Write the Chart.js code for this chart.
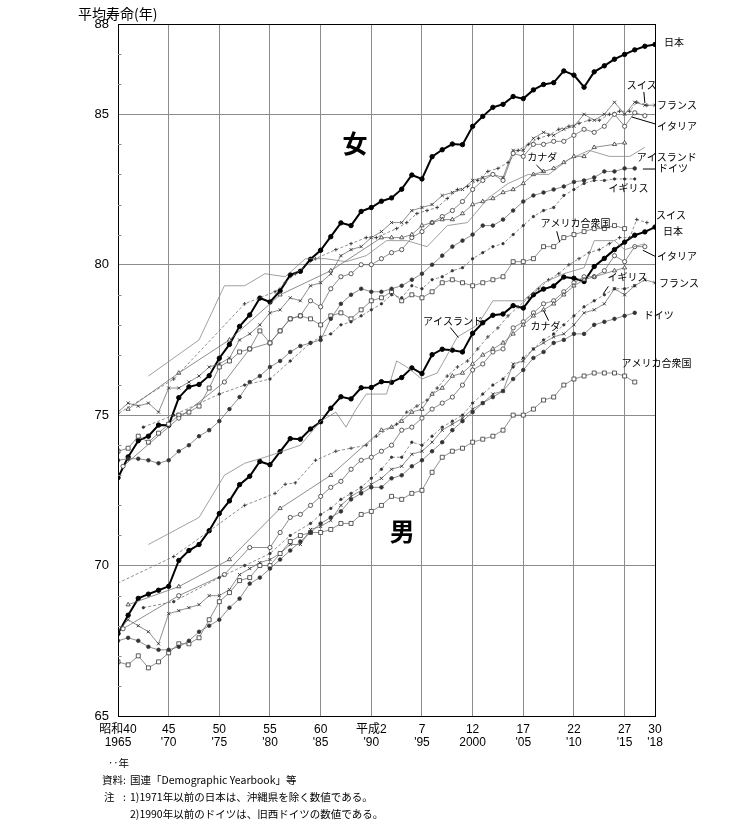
<!DOCTYPE html>
<html>
<head>
<meta charset="utf-8">
<script src="https://cdn.jsdelivr.net/npm/chart.js@4.4.1/dist/chart.umd.min.js"></script>
<style>
    html, body { margin: 0; background: #fff; }
    canvas { display: block; }
</style>
</head>
<body>
<canvas id="lifeChart" width="745" height="840"></canvas>
<script>
// years on the axis
const tickYears = [1965, 1970, 1975, 1980, 1985, 1990, 1995, 2000, 2005, 2010, 2015, 2018];
const eraLabels = ['昭和40', '45', '50', '55', '60', '平成2', '7', '12', '17', '22', '27', '30'];
const westLabels = ['1965', "'70", "'75", "'80", "'85", "'90", "'95", '2000', "'05", "'10", "'15", "'18"];
const yMajorTicks = [65, 70, 75, 80, 85, 88];

const annualYears = [1965,1966,1967,1968,1969,1970,1971,1972,1973,1974,1975,1976,1977,1978,1979,1980,1981,1982,1983,1984,1985,1986,1987,1988,1989,1990,1991,1992,1993,1994,1995,1996,1997,1998,1999,2000,2001,2002,2003,2004,2005,2006,2007,2008,2009,2010,2011,2012,2013,2014,2015,2016,2017,2018];

// 日本
const japanF = [72.92,73.61,74.15,74.30,74.67,74.66,75.58,75.94,76.02,76.31,76.89,77.35,77.95,78.33,78.89,78.76,79.13,79.66,79.78,80.18,80.48,80.93,81.39,81.30,81.77,81.90,82.11,82.22,82.51,82.98,82.85,83.59,83.82,84.01,83.99,84.60,84.93,85.23,85.33,85.59,85.52,85.81,85.99,86.05,86.44,86.30,85.90,86.41,86.61,86.83,86.99,87.14,87.26,87.32];
const japanM = [67.74,68.35,68.91,69.05,69.18,69.31,70.17,70.50,70.70,71.16,71.73,72.15,72.69,72.97,73.46,73.35,73.79,74.22,74.20,74.54,74.78,75.23,75.61,75.54,75.91,75.92,76.11,76.09,76.25,76.57,76.38,77.01,77.19,77.16,77.10,77.72,78.07,78.32,78.36,78.64,78.56,79.00,79.19,79.29,79.59,79.55,79.44,79.94,80.21,80.50,80.75,80.98,81.09,81.25];

// フランス
const franceF = [75.1,75.4,75.3,75.4,75.1,75.9,75.9,76.1,76.3,76.6,76.7,76.9,77.5,77.7,78.0,78.4,78.5,78.9,78.8,79.3,79.4,79.7,80.3,80.5,80.6,80.9,81.1,81.4,81.4,81.8,81.9,82.0,82.3,82.4,82.5,82.8,82.9,83.0,82.9,83.8,83.8,84.2,84.4,84.3,84.5,84.6,85.0,84.8,85.0,85.4,85.0,85.4,85.3,85.3];
const franceM = [67.8,68.2,68.0,67.8,67.4,68.4,68.5,68.6,68.7,69.0,69.0,69.2,69.7,69.9,70.1,70.2,70.4,70.7,70.7,71.2,71.3,71.5,72.0,72.3,72.5,72.7,72.9,73.2,73.3,73.7,73.8,74.1,74.5,74.7,74.9,75.2,75.4,75.7,75.8,76.7,76.8,77.2,77.4,77.6,77.7,78.0,78.4,78.5,78.7,79.2,79.0,79.3,79.5,79.4];

// アメリカ合衆国 (1965-2015 / 1965-2016)
const usaF = [73.8,73.9,74.3,74.1,74.4,74.7,75.0,75.1,75.3,75.9,76.6,76.8,77.1,77.2,77.8,77.4,77.8,78.2,78.3,78.2,78.0,78.3,78.4,78.2,78.5,78.8,78.9,79.1,78.8,79.0,78.9,79.1,79.4,79.5,79.4,79.3,79.4,79.5,79.6,80.1,80.1,80.2,80.6,80.6,80.9,81.0,81.1,81.2,81.2,81.3,81.2];
const usaM = [66.8,66.7,67.0,66.6,66.8,67.1,67.4,67.4,67.6,68.2,68.8,69.1,69.5,69.6,70.0,70.0,70.4,70.8,71.0,71.1,71.1,71.2,71.4,71.4,71.7,71.8,72.0,72.3,72.2,72.4,72.5,73.1,73.6,73.8,73.9,74.1,74.2,74.3,74.5,75.0,75.0,75.2,75.5,75.6,76.0,76.2,76.3,76.4,76.4,76.4,76.3,76.1];

// ドイツ (1965-2016)
const germanyF = [73.5,73.55,73.55,73.5,73.4,73.5,73.8,74.0,74.3,74.5,74.8,75.2,75.6,76.1,76.3,76.6,76.8,77.1,77.3,77.4,77.5,78.2,78.7,79.0,79.2,79.1,79.1,79.2,79.3,79.5,79.7,80.0,80.3,80.6,80.8,81.0,81.3,81.3,81.5,81.8,82.1,82.3,82.4,82.5,82.6,82.75,82.8,82.9,83.1,83.1,83.2,83.2];
const germanyM = [67.5,67.6,67.5,67.3,67.2,67.2,67.3,67.5,67.8,68.0,68.2,68.6,68.9,69.4,69.6,69.9,70.2,70.5,70.8,71.1,71.4,71.6,71.8,72.2,72.4,72.6,72.6,72.9,73.0,73.3,73.5,73.8,74.1,74.5,74.8,75.1,75.4,75.6,75.8,76.2,76.5,76.9,77.1,77.4,77.5,77.7,77.7,78.0,78.1,78.2,78.3,78.4];

// スイス
const swissYears = [1960.5,1970.5,1977.5,1980.5,1981.5,1982.5,1984.5,1986.5,1988,1989.5,1990.5,1992.5,1993.5,1994.5,1995.5,1996.5,1997.5,1998.5,1999.5,2000.5,2001.5,2002.5,2003.5,2004.5,2005.5,2006.5,2007.5,2008.5,2009.5,2010.5,2011.5,2012.5,2013.5,2014.5,2015.5,2016.2,2017.2];
const swissF = [74.1,76.2,78.7,79.1,79.4,79.7,80.2,80.5,80.7,80.9,80.9,81.2,81.4,81.7,81.8,81.9,82.2,82.5,82.6,82.8,83.1,83.2,83.4,83.8,84.0,84.2,84.3,84.5,84.6,84.7,84.8,84.8,85.0,85.1,85.1,85.4,85.3];
const swissM = [68.7,70.3,72.0,72.4,72.7,72.75,73.5,73.8,73.9,74.0,74.3,74.7,75.1,75.3,75.5,75.9,76.3,76.6,76.8,77.2,77.6,77.9,78.3,78.6,78.9,79.2,79.5,79.7,80.0,80.2,80.4,80.5,80.7,80.9,80.9,81.5,81.4];

// イタリア
const italyYears = [1965.5,1971,1975.5,1978,1980,1981,1982,1983,1984,1985,1986,1987,1988,1989,1990,1991,1992,1993,1994,1995,1996,1997,1998,1999,2000,2001,2002,2003,2004,2005,2006,2007,2008,2009,2010,2011,2012,2013,2014,2015,2016,2017];
const italyF = [73.3,74.9,76.1,77.2,77.4,77.8,78.2,78.3,78.8,78.6,79.2,79.6,79.7,80.0,80.0,80.2,80.4,80.5,80.9,81.1,81.4,81.6,81.8,82.1,82.5,82.8,83.0,82.8,83.7,83.6,84.0,84.0,84.1,84.1,84.3,84.5,84.4,84.6,85.0,84.6,85.05,84.95];
const italyM = [67.9,69.0,69.7,70.6,70.6,71.1,71.6,71.7,72.0,72.3,72.6,72.8,73.2,73.5,73.6,73.8,74.0,74.5,74.6,74.9,75.2,75.4,75.6,76.0,76.5,76.7,77.1,77.2,77.9,78.1,78.4,78.7,78.8,79.1,79.4,79.6,79.6,79.8,80.3,80.1,80.6,80.6];

// アイスランド
const icelandFYears = [1968,1973,1975.5,1977.5,1979.5,1981.5,1983.5,1985.5,1987.5,1989.5,1991.5,1993.5,1995.5,1997.5,1999.5,2001.5,2003.5,2005.5,2007.5,2009.5,2011.5,2013.5,2015.5,2017];
const icelandF = [76.3,77.5,79.3,79.3,79.7,79.6,80.2,80.2,80.1,80.3,80.8,80.8,80.6,81.3,81.4,82.2,82.7,83.0,83.0,83.5,83.8,83.6,83.6,83.9];
const icelandMYears = [1968,1973,1975.5,1977.5,1979.5,1983,1985,1986.5,1987.5,1988.5,1989.5,1991.5,1992.5,1993.5,1995,1996.5,1998.5,2000.5,2002,2005,2007,2009,2011,2012,2014,2015,2017];
const icelandM = [70.7,71.6,73.0,73.4,73.6,74.0,74.8,75.1,74.6,75.2,75.7,75.7,76.8,76.6,76.2,76.4,77.6,78.0,78.8,78.8,79.4,79.7,79.9,80.8,80.8,80.5,80.7];

// イギリス
const ukYears = [1967.5,1970.5,1975,1977.5,1980,1982,1984,1985,1986,1987,1988,1989,1990,1991,1992,1993,1994,1995,1996,1997,1998,1999,2000,2001,2002,2003,2004,2005,2006,2007,2008,2009,2010,2011,2012,2013,2014,2015,2016];
const ukF = [74.6,75.0,75.7,76.0,76.2,76.8,77.4,77.6,77.7,78.0,78.1,78.3,78.5,78.7,79.0,78.9,79.3,79.2,79.5,79.6,79.8,79.9,80.2,80.4,80.6,80.7,81.0,81.3,81.6,81.8,81.9,82.3,82.5,82.7,82.8,82.8,82.85,82.85,82.85];
const ukM = [68.6,68.8,69.6,70.0,70.4,71.0,71.4,71.7,71.9,72.2,72.4,72.6,72.9,73.2,73.6,73.6,74.1,74.0,74.3,74.6,74.8,75.0,75.4,75.7,76.0,76.2,76.6,76.9,77.2,77.5,77.7,78.0,78.3,78.6,78.8,79.0,79.2,79.2,79.3];

// カナダ
const canadaYears = [1966,1971,1976,1981,1986,1991,1992,1993,1994,1995,1996,1997,1998,1999,2000,2001,2002,2003,2004,2005,2006,2007,2008,2009,2010,2011,2012,2014,2015];
const canadaF = [75.2,76.4,77.5,79.0,79.8,80.9,80.9,80.9,81.0,81.3,81.4,81.5,81.5,81.7,82.0,82.1,82.2,82.4,82.5,82.7,83.0,83.1,83.2,83.4,83.6,83.6,83.9,84.0,84.05];
const canadaM = [68.7,69.3,70.2,71.9,73.0,74.5,74.6,74.8,75.1,75.2,75.7,75.9,76.3,76.4,76.7,77.0,77.2,77.4,77.7,78.0,78.3,78.5,78.7,79.0,79.3,79.5,79.6,79.8,79.9];

// labels placed in data units (year, age)
const countryLabels = [
    { text: '日本', x: 2018.9, y: 87.38 },
    { text: 'スイス', x: 2015.2, y: 85.98 },
    { text: 'フランス', x: 2018.2, y: 85.31 },
    { text: 'イタリア', x: 2018.2, y: 84.61 },
    { text: 'アイスランド', x: 2016.2, y: 83.58 },
    { text: 'ドイツ', x: 2018.3, y: 83.21 },
    { text: 'イギリス', x: 2013.4, y: 82.54 },
    { text: 'カナダ', x: 2005.4, y: 83.58 },
    { text: 'アメリカ合衆国', x: 2006.7, y: 81.38 },
    { text: 'スイス', x: 2018.1, y: 81.64 },
    { text: '日本', x: 2018.8, y: 81.11 },
    { text: 'イタリア', x: 2018.2, y: 80.28 },
    { text: 'フランス', x: 2018.4, y: 79.38 },
    { text: 'イギリス', x: 2013.3, y: 79.58 },
    { text: 'ドイツ', x: 2016.9, y: 78.31 },
    { text: 'カナダ', x: 2005.7, y: 77.94 },
    { text: 'アイスランド', x: 1995.1, y: 78.11 },
    { text: 'アメリカ合衆国', x: 2014.7, y: 76.74 }
];
const pointerLines = [
    [2016.9, 85.74, 2017.0, 85.37],
    [2015.7, 84.91, 2018.0, 84.68],
    [2016.8, 83.18, 2018.1, 83.18],
    [2006.3, 83.31, 2007.0, 83.08],
    [2008.3, 81.11, 2008.6, 80.74],
    [2016.8, 80.48, 2018.0, 80.28],
    [2013.4, 79.28, 2012.9, 79.04],
    [2007.0, 78.48, 2007.5, 78.14],
    [1997.8, 77.91, 1998.6, 77.58]
];
const sexLabels = [
    { text: '女', x: 1988.4, y: 84.04 },
    { text: '男', x: 1993.05, y: 71.14 }
];

const CJK = "'Noto Sans CJK JP', sans-serif";
const NUM = "'Liberation Sans Narrow', 'Liberation Sans', 'Noto Sans CJK JP', sans-serif";

function toPoints(xs, ys) {
    return xs.map((x, i) => ({ x: x, y: ys[i] }));
}

const thin = {
    borderColor: '#6a6a6a',
    borderWidth: 0.75,
    pointBorderColor: '#333',
    pointBackgroundColor: '#fff',
    pointBorderWidth: 0.8,
    pointRadius: 2,
    tension: 0
};
const styles = {
    japan: { borderColor: '#000', borderWidth: 2, pointStyle: 'circle', pointRadius: 2.2,
             pointBackgroundColor: '#000', pointBorderColor: '#000', pointBorderWidth: 1, tension: 0 },
    usa: Object.assign({}, thin, { pointStyle: 'rect', pointRadius: 2.8 }),
    italy: Object.assign({}, thin, { pointStyle: 'circle', pointRadius: 2.1 }),
    canada: Object.assign({}, thin, { pointStyle: 'triangle', pointRadius: 2.4 }),
    germany: Object.assign({}, thin, { pointStyle: 'circle', pointRadius: 1.8, pointBackgroundColor: '#333' }),
    france: Object.assign({}, thin, { pointStyle: 'crossRot', pointRadius: 2.2, pointBorderWidth: 0.9 }),
    swiss: Object.assign({}, thin, { borderDash: [3, 2], pointStyle: 'cross', pointRadius: 1.8, pointBorderWidth: 0.9 }),
    uk: Object.assign({}, thin, { borderDash: [3, 2], pointStyle: 'circle', pointRadius: 1.2, pointBackgroundColor: '#333' }),
    iceland: Object.assign({}, thin, { borderColor: '#808080', pointRadius: 0 })
};

const datasets = [
    ['アイスランド女', icelandFYears, icelandF, 'iceland'],
    ['アイスランド男', icelandMYears, icelandM, 'iceland'],
    ['イギリス女', ukYears, ukF, 'uk'],
    ['イギリス男', ukYears, ukM, 'uk'],
    ['スイス女', swissYears, swissF, 'swiss'],
    ['スイス男', swissYears, swissM, 'swiss'],
    ['カナダ女', canadaYears, canadaF, 'canada'],
    ['カナダ男', canadaYears, canadaM, 'canada'],
    ['ドイツ女', annualYears.slice(0, germanyF.length), germanyF, 'germany'],
    ['ドイツ男', annualYears.slice(0, germanyM.length), germanyM, 'germany'],
    ['イタリア女', italyYears, italyF, 'italy'],
    ['イタリア男', italyYears, italyM, 'italy'],
    ['アメリカ合衆国女', annualYears.slice(0, usaF.length), usaF, 'usa'],
    ['アメリカ合衆国男', annualYears.slice(0, usaM.length), usaM, 'usa'],
    ['フランス女', annualYears, franceF, 'france'],
    ['フランス男', annualYears, franceM, 'france'],
    ['日本女', annualYears, japanF, 'japan'],
    ['日本男', annualYears, japanM, 'japan']
].map(d => Object.assign({ label: d[0], data: toPoints(d[1], d[2]) }, styles[d[3]]));

const decorPlugin = {
    id: 'decor',
    afterDatasetsDraw(chart) {
        const { ctx, chartArea: a, scales: { x, y } } = chart;
        ctx.save();
        // frame
        ctx.strokeStyle = '#000';
        ctx.lineWidth = 1;
        ctx.strokeRect(Math.round(a.left) + 0.5, Math.round(a.top) + 0.5,
                       Math.round(a.right - a.left), Math.round(a.bottom - a.top));
        // minor ticks inside the left axis
        ctx.strokeStyle = '#888';
        y.ticks.forEach(t => {
            if (t.value % 5 === 0 || t.value === 88) return;
            const py = Math.round(y.getPixelForValue(t.value)) + 0.5;
            ctx.beginPath();
            ctx.moveTo(a.left, py);
            ctx.lineTo(a.left + 3.5, py);
            ctx.stroke();
        });
        // pointer lines
        ctx.strokeStyle = '#000';
        ctx.lineWidth = 1;
        pointerLines.forEach(p => {
            ctx.beginPath();
            ctx.moveTo(x.getPixelForValue(p[0]), y.getPixelForValue(p[1]));
            ctx.lineTo(x.getPixelForValue(p[2]), y.getPixelForValue(p[3]));
            ctx.stroke();
        });
        // country names
        ctx.fillStyle = '#000';
        ctx.font = '10px ' + CJK;
        ctx.textAlign = 'left';
        ctx.textBaseline = 'middle';
        countryLabels.forEach(l => {
            ctx.fillText(l.text, x.getPixelForValue(l.x), y.getPixelForValue(l.y));
        });
        ctx.font = 'bold 25px ' + CJK;
        ctx.textAlign = 'center';
        sexLabels.forEach(l => {
            ctx.fillText(l.text, x.getPixelForValue(l.x), y.getPixelForValue(l.y));
        });
        // axis title and notes
        ctx.textAlign = 'left';
        ctx.font = '14px ' + CJK;
        ctx.fillText('平均寿命(年)', 78, 14);
        ctx.font = '10.5px ' + CJK;
        ctx.fillText('‥年', 108, 763);
        ctx.fillText('資料', 102, 780);
        ctx.fillText(':', 123, 780);
        ctx.fillText('国連「Demographic Yearbook」等', 130, 780);
        ctx.fillText('注', 104, 797);
        ctx.fillText(':', 123, 797);
        ctx.fillText('1)1971年以前の日本は、沖縄県を除く数値である。', 130, 797);
        ctx.fillText('2)1990年以前のドイツは、旧西ドイツの数値である。', 130, 814);
        ctx.restore();
    }
};

new Chart(document.getElementById('lifeChart'), {
    type: 'line',
    data: { datasets: datasets },
    options: {
        responsive: false,
        animation: false,
        devicePixelRatio: 1,
        layout: { padding: { left: 78, right: 90, top: 24, bottom: 84 } },
        plugins: { legend: { display: false }, tooltip: { enabled: false } },
        elements: { line: { fill: false } },
        scales: {
            x: {
                type: 'linear',
                min: 1965,
                max: 2018,
                afterBuildTicks: s => { s.ticks = tickYears.map(v => ({ value: v })); },
                afterFit: s => { s.height = 40; },
                ticks: {
                    autoSkip: false,
                    maxRotation: 0,
                    minRotation: 0,
                    padding: 7,
                    color: '#000',
                    font: { family: NUM, size: 12, lineHeight: 1.1 },
                    callback: v => {
                        const i = tickYears.indexOf(v);
                        return i < 0 ? '' : [eraLabels[i], westLabels[i]];
                    }
                },
                grid: {
                    drawTicks: false,
                    lineWidth: 1,
                    color: c => (c.tick && c.tick.value > 1965 && c.tick.value < 2018) ? '#8c8c8c' : 'rgba(0,0,0,0)'
                },
                border: { color: '#000', width: 1 }
            },
            y: {
                min: 65,
                max: 88,
                afterFit: s => { s.width = 40; },
                ticks: {
                    stepSize: 1,
                    autoSkip: false,
                    padding: 9,
                    color: '#000',
                    font: { family: NUM, size: 13 },
                    callback: v => yMajorTicks.includes(v) ? String(v) : ''
                },
                grid: {
                    drawTicks: false,
                    lineWidth: 1,
                    color: c => (c.tick && [70, 75, 80, 85].includes(c.tick.value)) ? '#8c8c8c' : 'rgba(0,0,0,0)'
                },
                border: { color: '#000', width: 1 }
            }
        }
    },
    plugins: [decorPlugin]
});
</script>
</body>
</html>
